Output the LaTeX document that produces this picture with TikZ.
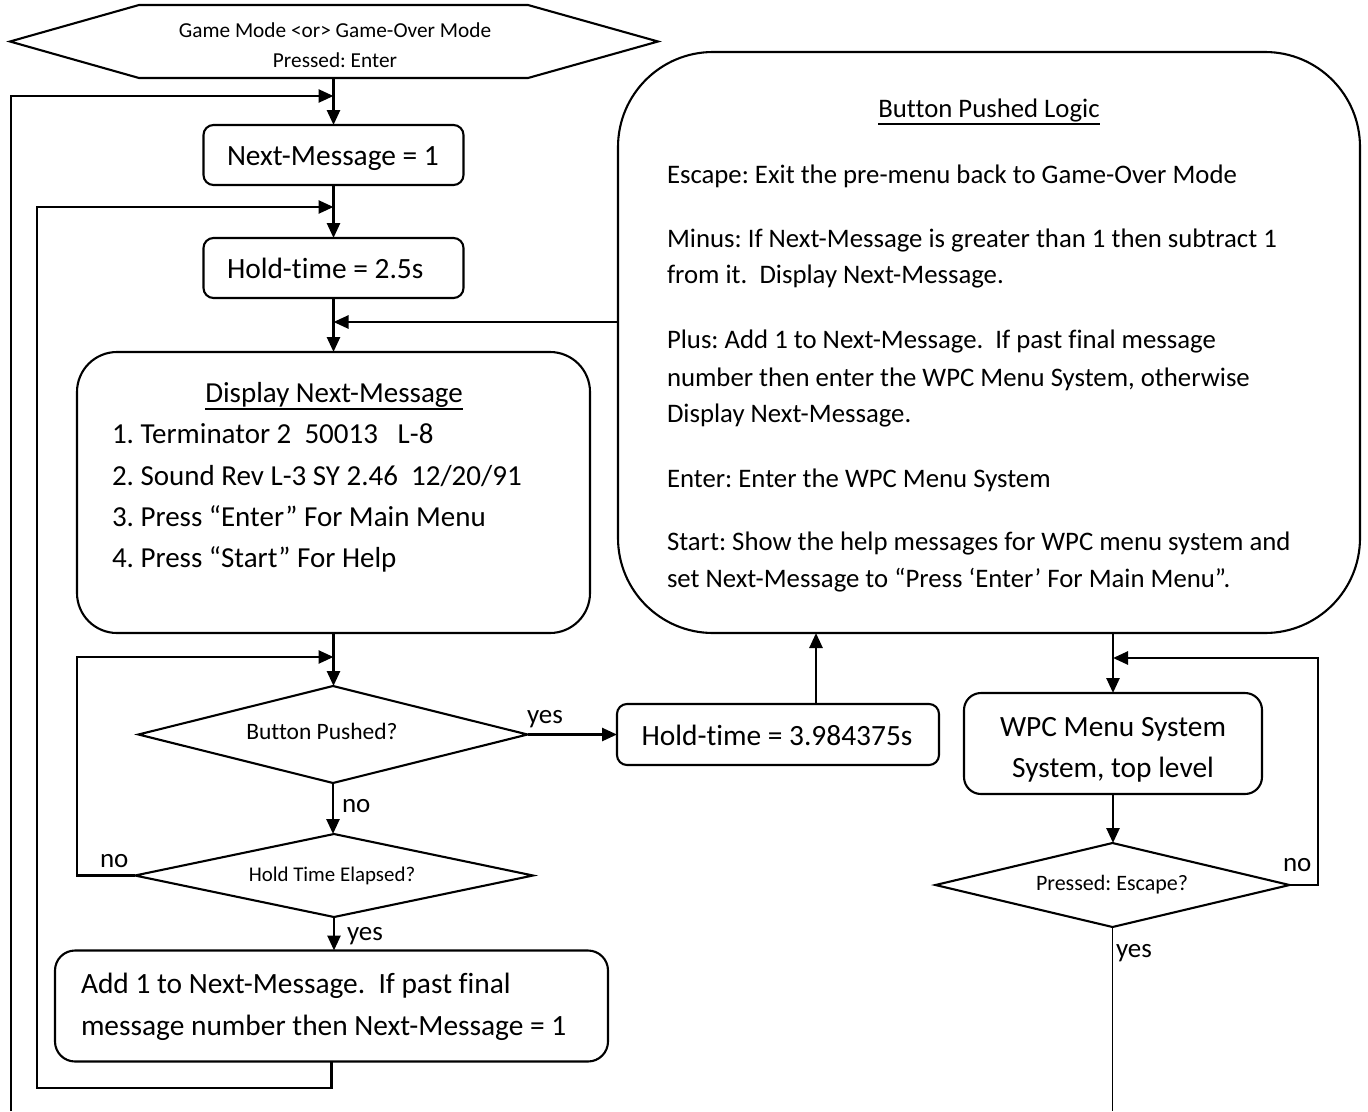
\documentclass[tikz,border=0pt]{standalone}
\usepackage{fontspec}
\setmainfont[Ligatures=NoCommon]{Carlito}
\usetikzlibrary{arrows.meta}
\newcommand\fontHex{\fontsize{21.3}{26}\selectfont}
\newcommand\fontBp{\fontsize{23.5}{28}\selectfont}
\newcommand\fontHt{\fontsize{20.9}{25}\selectfont}
\newcommand\fontPe{\fontsize{22}{26}\selectfont}
\newcommand\fontBig{\fontsize{29.4}{35}\selectfont}
\newcommand\fontMid{\fontsize{29}{35}\selectfont}
\newcommand\fontBpl{\fontsize{26.75}{33}\selectfont}
\newcommand\fontLab{\fontsize{27}{33}\selectfont}
\frenchspacing
\begin{document}
\begin{tikzpicture}[x=1pt,y=-1pt,
  every node/.style={inner sep=0pt, outer sep=0pt},
  box/.style={draw, line width=2.1pt, rounded corners=#1},
  box/.default=10pt,
  shapeline/.style={line width=2.1pt, line join=miter},
  txt/.style={anchor=base west},
  ctxt/.style={anchor=base},
  conn/.style={line width=2.6pt, -{Triangle[length=15pt,width=13pt]}},
  uline/.style={line width=1.8pt},
]
\useasboundingbox (0,0) rectangle (1368,1111);

% start hexagon
\node[minimum width=389pt, minimum height=73pt] (hex) at (333.5,41.5) {};
\draw[shapeline] (hex.north west) -- (hex.north east) -- ([xshift=130pt]hex.east)
  -- (hex.south east) -- (hex.south west) -- ([xshift=-129pt]hex.west) -- cycle;
\node[ctxt, font=\fontHex] (hext1) at (335,37) {Game Mode <or> Game-Over Mode};
\node[ctxt, font=\fontHex] (hext2) at (335,67) {Pressed: Enter};

% Next-Message = 1
\node[box=10pt, minimum width=260pt, minimum height=60pt] (nm) at (333.5,155) {};
\node[txt, font=\fontBig] (nmt) at (227,165) {Next-Message = 1};

% Hold-time = 2.5s
\node[box=10pt, minimum width=260pt, minimum height=60pt] (ht) at (333.5,268) {};
\node[txt, font=\fontBig] (htt) at (227,278) {Hold-time = 2.5s};

% Display Next-Message
\node[box=40pt, minimum width=513pt, minimum height=281pt] (disp) at (333.5,492.5) {};
\node[ctxt, font=\fontMid] (dt) at (334,402) {Display Next-Message};
\draw[uline] ([yshift=-7pt]dt.base west) -- ([yshift=-7pt]dt.base east);
\node[txt, font=\fontMid] (d1) at (112,443) {1. Terminator 2~~50013~~~L-8};
\node[txt, font=\fontMid] (d2) at (112,485) {2. Sound Rev L-3 SY 2.46~~12/20/91};
\node[txt, font=\fontMid] (d3) at (112,526) {3. Press “Enter” For Main Menu};
\node[txt, font=\fontMid] (d4) at (112,567) {4. Press “Start” For Help};

% Button Pushed Logic
\node[box=95pt, minimum width=742pt, minimum height=581pt] (bpl) at (989,342.5) {};
\node[ctxt, font=\fontBpl] (bt) at (989,117) {Button Pushed Logic};
\draw[uline] ([yshift=-7pt]bt.base west) -- ([yshift=-7pt]bt.base east);
\node[txt, font=\fontBpl] (b1) at (667,183) {Escape: Exit the pre-menu back to Game-Over Mode};
\node[txt, font=\fontBpl] (b2) at (667,247) {Minus: If Next-Message is greater than 1 then subtract 1};
\node[txt, font=\fontBpl] (b3) at (667,283) {from it.~~Display Next-Message.};
\node[txt, font=\fontBpl] (b4) at (667,348) {Plus: Add 1 to Next-Message.~~If past final message};
\node[txt, font=\fontBpl] (b5) at (667,386) {number then enter the WPC Menu System, otherwise};
\node[txt, font=\fontBpl] (b6) at (667,422) {Display Next-Message.};
\node[txt, font=\fontBpl] (b7) at (667,487) {Enter: Enter the WPC Menu System};
\node[txt, font=\fontBpl] (b8) at (667,550) {Start: Show the help messages for WPC menu system and};
\node[txt, font=\fontBpl] (b9) at (667,587) {set Next-Message to “Press ‘Enter’ For Main Menu”.};

% decisions (diamonds drawn through the anchors of their nodes)
\node[minimum width=389pt, minimum height=97pt] (bp) at (333,734.5) {};
\draw[shapeline] (bp.north) -- (bp.east) -- (bp.south) -- (bp.west) -- cycle;
\node[ctxt, font=\fontBp] (bpt) at (322,739) {Button Pushed?};

\node[minimum width=398pt, minimum height=83pt] (hte) at (334,875.5) {};
\draw[shapeline] (hte.north) -- (hte.east) -- (hte.south) -- (hte.west) -- cycle;
\node[ctxt, font=\fontHt] (htet) at (332,881) {Hold Time Elapsed?};

% Add 1 box
\node[box=20pt, minimum width=553pt, minimum height=111pt] (add) at (331.5,1006) {};
\node[txt, font=\fontBig] (a1) at (81,993) {Add 1 to Next-Message.~~If past final};
\node[txt, font=\fontBig] (a2) at (81,1035) {message number then Next-Message = 1};

% Hold-time = 3.984375s
\node[box=10pt, minimum width=322pt, minimum height=61pt] (h398) at (778,734.5) {};
\node[ctxt, font=\fontBig] (h398t) at (777,745) {Hold-time = 3.984375s};

% WPC Menu System
\node[box=17pt, minimum width=298pt, minimum height=101pt] (wpc) at (1113,743.5) {};
\node[ctxt, font=\fontBig] (w1) at (1113,736) {WPC Menu System};
\node[ctxt, font=\fontBig] (w2) at (1113,777) {System, top level};

\node[minimum width=354pt, minimum height=84pt] (pe) at (1112.5,885) {};
\draw[shapeline] (pe.north) -- (pe.east) -- (pe.south) -- (pe.west) -- cycle;
\node[ctxt, font=\fontPe] (pet) at (1112,890) {Pressed: Escape?};

% labels
\node[txt, font=\fontLab] (lyes1) at (527,723) {yes};
\node[txt, font=\fontLab] (lno1) at (342,812) {no};
\node[txt, font=\fontLab] (lno2) at (100,867) {no};
\node[txt, font=\fontLab] (lyes2) at (347,940) {yes};
\node[txt, font=\fontLab] (lno3) at (1283,871) {no};
\node[txt, font=\fontLab] (lyes3) at (1116,957) {yes};

% coordinates
\coordinate (o0) at (11,1111);
\coordinate (o1) at (333.5,96);
\coordinate (i0) at (37,1088);
\coordinate (i1) at (333.5,207);
\coordinate (dispin) at (333.5,322);
\coordinate (bpcorner) at (77,657);
\coordinate (bpin) at (333.5,657);
\coordinate (pecorner) at (1318,658);
\coordinate (wpcin) at (1113,658);
\coordinate (peend) at (1113,1111);

% connectors
\draw[conn] (hex.south) -- (nm.north);
\draw[conn] (o0) |- (o1);
\draw[conn] (nm.south) -- (ht.north);
\draw[conn] (add.south) |- (i0) |- (i1);
\draw[conn] (ht.south) -- (disp.north);
\draw[conn] (bpl.west |- dispin) -- (dispin);
\draw[conn] (disp.south) -- (disp.south |- bp.north);
\draw[conn] (hte.west) -| (bpcorner) -- (bpin);
\draw[conn] (bp.south) -- (bp.south |- hte.north);
\draw[conn] (bp.east) -- (bp.east -| h398.west);
\draw[conn] ([xshift=38pt]h398.north) -- ([xshift=38pt]h398.north |- bpl.south);
\draw[conn] (hte.south) -- (hte.south |- add.north);
\draw[conn] (wpc.north |- bpl.south) -- (wpc.north);
\draw[conn] (wpc.south) -- (wpc.south |- pe.north);
\draw[conn] (pe.east) -| (pecorner) -- (wpcin);
\draw[line width=1.6pt] (pe.south) -- (pe.south |- peend);
\end{tikzpicture}
\end{document}
